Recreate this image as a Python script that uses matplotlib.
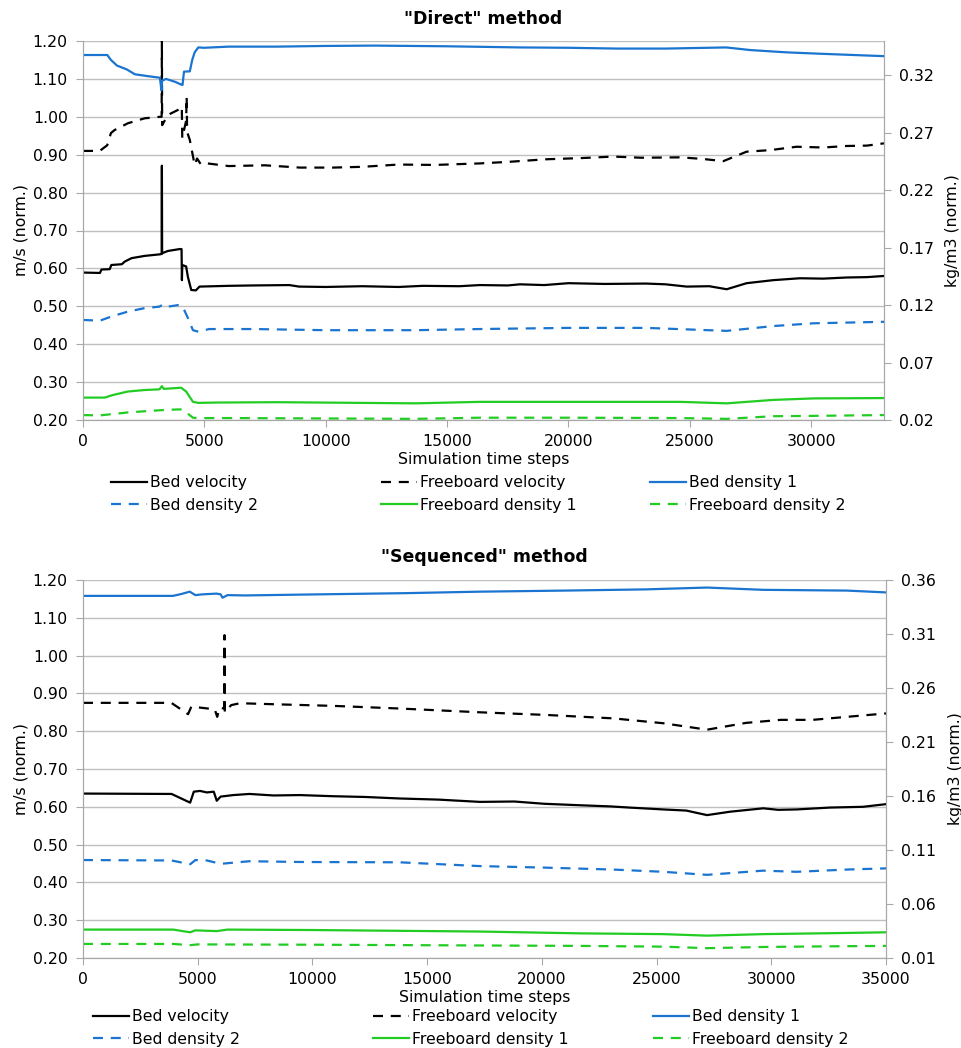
import matplotlib.pyplot as plt

plt.rcParams['font.family'] = ['DejaVu Sans']
plt.rcParams['font.size'] = 11.3

BLUE = '#1a74d0'
GREEN = '#22cc22'
GRID = '#c0c0c0'
AXIS = '#a8a8a8'

# ---- "Direct" method (velocities in m/s on left axis, densities in kg/m3 on right axis)
d_bv_x = [0, 700, 760, 1100, 1170, 1600, 1720, 2000, 2540, 3150, 3240, 3250, 3260, 3500, 3980,
          4060, 4075, 4090, 4250, 4320, 4460, 4650, 4800, 6000, 7000, 8500, 8900, 10000, 11500, 13000,
          14000, 15500, 16350, 17500, 18000, 19000, 20000, 21500, 23200, 24000, 24870, 25800, 26520,
          27340, 28440, 29540, 30500, 31460, 32300, 33000]
d_bv_y = [0.589, 0.588, 0.597, 0.598, 0.609, 0.611, 0.618, 0.627, 0.633, 0.637, 0.638, 0.871, 0.640,
          0.646, 0.651, 0.651, 0.569, 0.609, 0.605, 0.578, 0.543, 0.542, 0.552, 0.554, 0.555, 0.556,
          0.552, 0.551, 0.553, 0.551, 0.554, 0.553, 0.556, 0.555, 0.558, 0.556, 0.561, 0.559, 0.560,
          0.558, 0.552, 0.553, 0.545, 0.561, 0.569, 0.574, 0.573, 0.576, 0.577, 0.580]

d_fv_x = [0, 690, 1000, 1150, 1300, 1850, 2540, 3170, 3240, 3250, 3260, 3500, 3910, 4040, 4070,
          4090, 4250, 4270, 4290, 4400, 4600, 4700, 4850, 5000, 6000, 7500, 8940, 10300, 11500, 13000,
          14500, 16350, 17500, 19100, 20500, 21850, 23000, 24600, 25500, 26380, 27340, 28300, 29400,
          30500, 31460, 32300, 33000]
d_fv_y = [0.910, 0.910, 0.925, 0.957, 0.965, 0.983, 0.996, 1.000, 1.000, 1.200, 0.978, 1.005, 1.018,
          1.025, 1.027, 0.944, 0.990, 1.053, 0.960, 0.939, 0.873, 0.890, 0.875, 0.878, 0.870, 0.872,
          0.866, 0.866, 0.868, 0.874, 0.873, 0.877, 0.881, 0.888, 0.891, 0.895, 0.892, 0.893, 0.889,
          0.883, 0.908, 0.912, 0.921, 0.919, 0.923, 0.924, 0.930]

d_bd1_x = [0, 1000, 1150, 1400, 1800, 2140, 2600, 3170, 3230, 3260, 3420, 3800, 4040, 4100, 4160,
           4400, 4500, 4600, 4750, 5000, 6000, 8000, 10000, 12000, 15000, 18000, 20000, 22000, 24000,
           26500, 27500, 29000, 30500, 33000]
d_bd1_y = [0.3378, 0.3378, 0.3335, 0.3286, 0.3253, 0.3210, 0.3196, 0.3180, 0.3071, 0.3154, 0.3170,
           0.3144, 0.3121, 0.3117, 0.3233, 0.3236, 0.3335, 0.3401, 0.3444, 0.3441, 0.3451, 0.3451,
           0.3457, 0.3460, 0.3454, 0.3444, 0.3441, 0.3434, 0.3434, 0.3444, 0.3421, 0.3401, 0.3388, 0.3368]

d_bd2_x = [0, 700, 1170, 1850, 2540, 3150, 3300, 3500, 3900, 4100, 4330, 4530, 4750, 5200, 7000,
           10000, 13700, 16350, 20000, 23200, 24870, 26520, 28440, 30100, 33000]
d_bd2_y = [0.1071, 0.1065, 0.1101, 0.1144, 0.1174, 0.1187, 0.1207, 0.1187, 0.1200, 0.1190, 0.1084,
           0.0982, 0.0969, 0.0992, 0.0992, 0.0982, 0.0982, 0.0992, 0.1002, 0.1002, 0.0989, 0.0976,
           0.1018, 0.1042, 0.1055]

d_fd1_x = [0, 890, 1240, 1850, 2540, 3150, 3250, 3330, 4040, 4250, 4530, 4750, 5500, 8000, 13700,
           16350, 20000, 24600, 26520, 28440, 30100, 33000]
d_fd1_y = [0.0395, 0.0395, 0.0418, 0.0448, 0.0461, 0.0467, 0.0494, 0.0471, 0.0481, 0.0448, 0.0358,
           0.0349, 0.0352, 0.0355, 0.0345, 0.0358, 0.0358, 0.0358, 0.0345, 0.0375, 0.0388, 0.0391]

d_fd2_x = [0, 700, 1850, 3250, 3900, 4100, 4530, 4750, 6000, 13700, 16350, 20000, 24600, 26520,
           28440, 30100, 33000]
d_fd2_y = [0.0243, 0.0240, 0.0266, 0.0286, 0.0292, 0.0292, 0.0220, 0.0217, 0.0217, 0.0210, 0.0220,
           0.0220, 0.0217, 0.0210, 0.0233, 0.0236, 0.0243]

# ---- "Sequenced" method
s_bv_x = [0, 3860, 4670, 4830, 5100, 5400, 5700, 5830, 6000, 6550, 7250, 8300, 9460, 10900, 12300,
          13800, 15500, 17300, 18800, 20100, 21700, 23000, 23800, 25300, 26300, 27200, 28200, 29650,
          30300, 31100, 32560, 34000, 35000]
s_bv_y = [0.635, 0.634, 0.611, 0.640, 0.642, 0.638, 0.640, 0.616, 0.627, 0.631, 0.634, 0.630, 0.631,
          0.628, 0.626, 0.622, 0.619, 0.613, 0.614, 0.608, 0.604, 0.601, 0.598, 0.593, 0.590, 0.578,
          0.587, 0.596, 0.592, 0.593, 0.598, 0.600, 0.607]

s_fv_x = [0, 3850, 4580, 4720, 5300, 5740, 5850, 5950, 6160, 6170, 6180, 6460, 6840, 8500, 10900,
          13800, 17300, 20200, 23100, 25300, 27200, 28900, 30400, 31800, 33300, 35000]
s_fv_y = [0.875, 0.875, 0.845, 0.865, 0.861, 0.858, 0.838, 0.862, 0.860, 1.054, 0.850, 0.869, 0.874,
          0.871, 0.867, 0.860, 0.850, 0.843, 0.834, 0.821, 0.804, 0.822, 0.830, 0.830, 0.838, 0.847]

s_bd1_x = [0, 3920, 4300, 4650, 4900, 5200, 5560, 5820, 6000, 6080, 6300, 7050, 10240, 14000, 17300,
           21000, 24500, 27200, 29650, 33300, 35000]
s_bd1_y = [0.3453, 0.3453, 0.3471, 0.3492, 0.3460, 0.3467, 0.3471, 0.3474, 0.3467, 0.3436, 0.3460,
           0.3457, 0.3467, 0.3478, 0.3492, 0.3502, 0.3513, 0.3530, 0.3509, 0.3502, 0.3485]

s_bd2_x = [0, 3860, 4670, 4900, 5400, 6000, 7250, 9460, 13800, 17300, 20100, 23100, 25300, 27200,
           29650, 31100, 33300, 35000]
s_bd2_y = [0.1007, 0.1003, 0.0968, 0.1007, 0.1003, 0.0972, 0.0996, 0.0989, 0.0986, 0.0951, 0.0937,
           0.0919, 0.0898, 0.0870, 0.0909, 0.0898, 0.0919, 0.0930]

s_fd1_x = [0, 3930, 4670, 4900, 5830, 6300, 10000, 17300, 21700, 25300, 27200, 29650, 33000, 35000]
s_fd1_y = [0.0363, 0.0363, 0.0338, 0.0356, 0.0349, 0.0363, 0.0359, 0.0345, 0.0328, 0.0321, 0.0307,
           0.0321, 0.0331, 0.0338]

s_fd2_x = [0, 3930, 4670, 5000, 10000, 17300, 21700, 25300, 27200, 29650, 33000, 35000]
s_fd2_y = [0.0230, 0.0230, 0.0219, 0.0226, 0.0223, 0.0216, 0.0212, 0.0205, 0.0191, 0.0202, 0.0209,
           0.0212]

left_ticks = [0.20, 0.30, 0.40, 0.50, 0.60, 0.70, 0.80, 0.90, 1.00, 1.10, 1.20]
d_right_ticks = [0.02, 0.07, 0.12, 0.17, 0.22, 0.27, 0.32]
s_right_ticks = [0.01, 0.06, 0.11, 0.16, 0.21, 0.26, 0.31, 0.36]
d_xticks = [0, 5000, 10000, 15000, 20000, 25000, 30000]
s_xticks = [0, 5000, 10000, 15000, 20000, 25000, 30000, 35000]

DASH = (4.5, 3.5)
styles = {
    'Bed velocity': dict(color='black'),
    'Freeboard velocity': dict(color='black', dashes=DASH),
    'Bed density 1': dict(color=BLUE),
    'Bed density 2': dict(color=BLUE, dashes=DASH),
    'Freeboard density 1': dict(color=GREEN),
    'Freeboard density 2': dict(color=GREEN, dashes=DASH),
}
columns = [['Bed velocity', 'Bed density 2'],
           ['Freeboard velocity', 'Freeboard density 1'],
           ['Bed density 1', 'Freeboard density 2']]

W, H = 961, 1048
fig = plt.figure(figsize=(W / 100, H / 100), dpi=100)


def px(x, y):
    return x / W, 1 - y / H


def draw_panel(box, title, title_y, vel, dens, xmax, xticks, rlim, rticks, leg_x, leg_y):
    l, t, r, b = box
    ax = fig.add_axes([l / W, 1 - b / H, (r - l) / W, (b - t) / H])
    ax2 = ax.twinx()
    handles = {}
    for name, (x, y) in vel.items():
        handles[name], = ax.plot(x, y, lw=1.6, **styles[name])
    for name, (x, y) in dens.items():
        handles[name], = ax2.plot(x, y, lw=1.6, **styles[name])

    ax.set_xlim(0, xmax)
    ax.set_ylim(0.2, 1.2)
    ax.set_xticks(xticks)
    ax.set_yticks(left_ticks)
    ax.set_yticklabels(['%.2f' % v for v in left_ticks])
    ax2.set_ylim(*rlim)
    ax2.set_yticks(rticks)
    ax2.set_yticklabels(['%.2f' % v for v in rticks])
    ax.grid(axis='y', color=GRID, lw=1)
    ax.set_axisbelow(True)
    for a in (ax, ax2):
        for s in a.spines.values():
            s.set_color(AXIS)
        a.tick_params(length=5, color=AXIS, labelsize=11.3)
    ax.spines['top'].set_visible(False)
    ax2.spines['top'].set_visible(False)
    ax.tick_params(axis='y', pad=6)
    ax2.tick_params(axis='y', pad=6)
    ax.tick_params(axis='x', pad=5)

    ax.set_ylabel('m/s (norm.)', labelpad=3)
    ax2.set_ylabel('kg/m3 (norm.)', labelpad=8)
    ax.set_xlabel('Simulation time steps', labelpad=2)
    fig.text((l + r) / 2 / W, 1 - title_y / H, title, ha='center', va='center',
             fontsize=12.5, fontweight='bold')

    for cx, names in zip(leg_x, columns):
        fig.legend([handles[n] for n in names], names, loc='upper left',
                   bbox_to_anchor=px(cx, leg_y), frameon=False, borderpad=0,
                   borderaxespad=0, handlelength=2.3, handletextpad=0.2,
                   labelspacing=0.5, fontsize=11.3)


draw_panel((83, 41, 884, 420), '"Direct" method', 19,
           {'Bed velocity': (d_bv_x, d_bv_y), 'Freeboard velocity': (d_fv_x, d_fv_y)},
           {'Bed density 1': (d_bd1_x, d_bd1_y), 'Bed density 2': (d_bd2_x, d_bd2_y),
            'Freeboard density 1': (d_fd1_x, d_fd1_y), 'Freeboard density 2': (d_fd2_x, d_fd2_y)},
           33000, d_xticks, (0.02, 0.35), d_right_ticks, (111, 381, 650), 475)

draw_panel((83, 580, 886, 958), '"Sequenced" method', 557,
           {'Bed velocity': (s_bv_x, s_bv_y), 'Freeboard velocity': (s_fv_x, s_fv_y)},
           {'Bed density 1': (s_bd1_x, s_bd1_y), 'Bed density 2': (s_bd2_x, s_bd2_y),
            'Freeboard density 1': (s_fd1_x, s_fd1_y), 'Freeboard density 2': (s_fd2_x, s_fd2_y)},
           35000, s_xticks, (0.01, 0.36), s_right_ticks, (93, 373, 653), 1009)

fig.savefig('out.png', dpi=100)
